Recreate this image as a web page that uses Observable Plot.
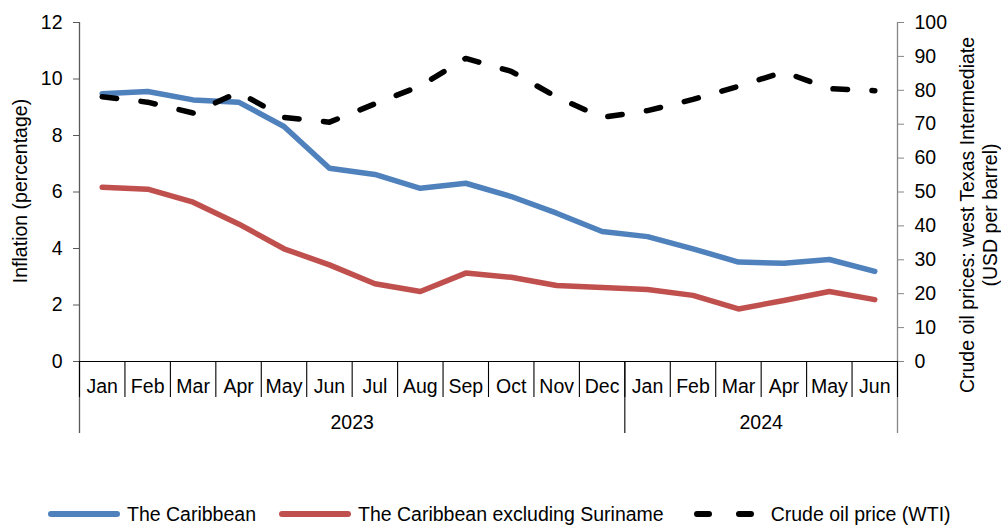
<!DOCTYPE html>
<html>
<head>
<meta charset="utf-8">
<script src="https://cdn.jsdelivr.net/npm/d3@7"></script>
<script src="https://cdn.jsdelivr.net/npm/@observablehq/plot@0.6"></script>
<style>
  html, body { margin: 0; padding: 0; background: #fff; }
  body { width: 1001px; height: 525px; position: relative; overflow: hidden;
         font-family: "Liberation Sans", Arial, sans-serif; }
  #chart { position: absolute; left: 0; top: 0; }
  #legend { position: absolute; left: 48px; top: 502px; height: 24px;
            display: flex; align-items: center; font-size: 19.5px; color: #000; }
  #legend .item { display: flex; align-items: center; white-space: nowrap; }
  #legend svg { display: block; }
</style>
</head>
<body>
<div id="chart"></div>
<div id="legend"></div>
<script>
// Monthly category labels, Jan 2023 – Jun 2024
const months = ["Jan","Feb","Mar","Apr","May","Jun","Jul","Aug","Sep","Oct","Nov","Dec",
                "Jan","Feb","Mar","Apr","May","Jun"];
const years = ["2023", "2024"];
const yearSpans = [[0, 11], [12, 17]];

// Inflation, percent (left axis)
const caribbean  = [9.48, 9.56, 9.26, 9.18, 8.32, 6.84, 6.62, 6.13, 6.31, 5.84, 5.25, 4.60,
                    4.42, 3.99, 3.52, 3.48, 3.61, 3.19];
const exSuriname = [6.17, 6.10, 5.64, 4.87, 3.99, 3.42, 2.75, 2.48, 3.13, 2.98, 2.69, 2.62,
                    2.55, 2.34, 1.86, 2.16, 2.48, 2.19];
// WTI crude oil price, USD per barrel (right axis)
const wti        = [78.1, 76.5, 73.3, 79.4, 72.0, 70.6, 76.0, 81.3, 89.4, 85.6, 78.0, 72.0,
                    74.0, 77.3, 81.2, 85.4, 80.5, 79.9];

const leftTicks  = [0, 2, 4, 6, 8, 10, 12];
const rightTicks = [0, 10, 20, 30, 40, 50, 60, 70, 80, 90, 100];

const seriesNames = ["The Caribbean", "The Caribbean excluding Suriname", "Crude oil price (WTI)"];
const colors = { blue: "#4f81bd", red: "#c0504d", oil: "#000000" };

// right axis is mapped onto the left scale: 100 USD <-> 12 %
const yMax = 12, oilMax = 100;
const toLeft = v => v * yMax / oilMax;

const W = 1001, H = 490;
const margin = { top: 22, right: 104, bottom: 129, left: 79 };
const pxPerUnit = (H - margin.top - margin.bottom) / yMax;
// depth (below the baseline) of the month row and the year row, in y units
const monthDepth = 36 / pxPerUnit;
const yearDepth = 72 / pxPerUnit;

const boundaries = d3.range(months.length + 1).map(i => i - 0.5);
const yearBounds = [-0.5, ...yearSpans.map(s => s[1] + 0.5)];
const yearCenters = yearSpans.map(s => (s[0] + s[1]) / 2);

const plot = Plot.plot({
  width: W,
  height: H,
  marginTop: margin.top,
  marginRight: margin.right,
  marginBottom: margin.bottom,
  marginLeft: margin.left,
  style: { fontFamily: "'Liberation Sans', Arial, sans-serif", fontSize: "19.5px", color: "#000", background: "#fff", overflow: "visible" },
  x: { type: "linear", domain: [-0.5, months.length - 0.5], axis: null },
  y: { domain: [0, yMax], axis: null },
  marks: [
    // left axis
    Plot.axisY({ anchor: "left", ticks: leftTicks, tickSize: 6, tickPadding: 11, label: null, stroke: "#595959", fill: "#000" }),
    Plot.ruleX([-0.5], { y1: -yearDepth, y2: yMax, stroke: "#595959", strokeWidth: 1.3, clip: false }),
    // right axis (oil price)
    Plot.axisY({ anchor: "right", ticks: rightTicks.map(toLeft), tickFormat: d => Math.round(d * oilMax / yMax),
                 tickSize: 6, tickPadding: 11, label: null, stroke: "#868686", fill: "#000" }),
    Plot.ruleX([months.length - 0.5], { y1: -yearDepth, y2: yMax, stroke: "#868686", strokeWidth: 1.3, clip: false }),
    // category axis
    Plot.ruleY([0], { stroke: "#000", strokeWidth: 1.2 }),
    Plot.ruleX(boundaries, { y1: 0, y2: -monthDepth, stroke: "#000", strokeWidth: 1.1, clip: false }),
    Plot.ruleX(yearBounds.slice(1, -1), { y1: 0, y2: -yearDepth, stroke: "#000", strokeWidth: 1.1, clip: false }),
    Plot.text(months, { x: (d, i) => i, y: 0, dy: 25, text: d => d, fill: "#000", clip: false }),
    Plot.text(years, { x: (d, i) => yearCenters[i], y: 0, dy: 61, text: d => d, fill: "#000", clip: false }),
    // axis titles
    Plot.text(["Inflation (percentage)"], { frameAnchor: "left", textAnchor: "middle", dx: -59, dy: -1, rotate: -90, fill: "#000" }),
    Plot.text(["Crude oil prices: west Texas Intermediate\n(USD per barrel)"],
              { frameAnchor: "right", textAnchor: "middle", lineAnchor: "middle", dx: 81, dy: 23, rotate: -90, lineHeight: 1.18, fill: "#000" }),
    // series
    Plot.line(exSuriname, { x: (d, i) => i, y: d => d, stroke: colors.red, strokeWidth: 5.5,
                            strokeLinejoin: "round", strokeLinecap: "round" }),
    Plot.line(caribbean, { x: (d, i) => i, y: d => d, stroke: colors.blue, strokeWidth: 5.5,
                           strokeLinejoin: "round", strokeLinecap: "round" }),
    Plot.line(wti, { x: (d, i) => i, y: d => toLeft(d), stroke: colors.oil, strokeWidth: 5.5,
                     strokeDasharray: "14.5,24.5", strokeLinecap: "round", strokeLinejoin: "round" })
  ]
});
document.getElementById("chart").appendChild(plot);

// legend
const legend = d3.select("#legend");
function addItem(name, color, dashed, gapAfterSwatch, marginLeft) {
  const item = legend.append("div").attr("class", "item").style("margin-left", marginLeft + "px");
  const w = dashed ? 62 : 72;
  const svg = item.append("svg").attr("width", w).attr("height", 10);
  if (dashed) {
    svg.append("line").attr("x1", 3).attr("x2", 59).attr("y1", 5).attr("y2", 5)
      .attr("stroke", color).attr("stroke-width", 6).attr("stroke-linecap", "round")
      .attr("stroke-dasharray", "12,30");
  } else {
    svg.append("line").attr("x1", 3).attr("x2", w - 3).attr("y1", 5).attr("y2", 5)
      .attr("stroke", color).attr("stroke-width", 6).attr("stroke-linecap", "round");
  }
  item.append("span").style("margin-left", gapAfterSwatch + "px").text(name);
}
addItem(seriesNames[0], colors.blue, false, 7, 0);
addItem(seriesNames[1], colors.red, false, 7, 23);
addItem(seriesNames[2], colors.oil, true, 15, 30);
</script>
</body>
</html>
